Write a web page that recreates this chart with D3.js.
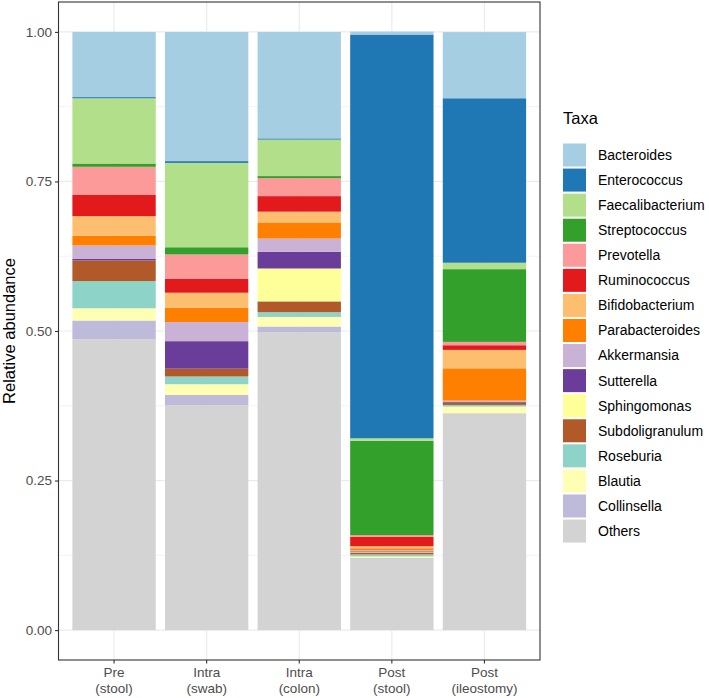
<!DOCTYPE html>
<html>
<head>
<meta charset="utf-8">
<script src="https://cdn.jsdelivr.net/npm/d3@7"></script>
<style>
  html, body { margin: 0; padding: 0; background: #fff; }
  text { font-family: "Liberation Sans", Arial, sans-serif; }
</style>
</head>
<body>
<svg id="chart" width="709" height="698"></svg>
<script>
// ---- data ----
const samples = ["Pre\n(stool)", "Intra\n(swab)", "Intra\n(colon)", "Post\n(stool)", "Post\n(ileostomy)"];
const taxa = ["Bacteroides", "Enterococcus", "Faecalibacterium", "Streptococcus", "Prevotella",
  "Ruminococcus", "Bifidobacterium", "Parabacteroides", "Akkermansia", "Sutterella",
  "Sphingomonas", "Subdoligranulum", "Roseburia", "Blautia", "Collinsella", "Others"];
const taxaColors = ["#A6CEE3", "#1F78B4", "#B2DF8A", "#33A02C", "#FB9A99", "#E31A1C", "#FDBF6F",
  "#FF7F00", "#CAB2D6", "#6A3D9A", "#FFFF99", "#B15928", "#8DD3C7", "#FFFFB3", "#BEBADA", "#D3D3D3"];
// values per sample, in taxa order
const preStool      = [0.109, 0.002, 0.109, 0.0055, 0.0465, 0.036, 0.033, 0.016, 0.022, 0.003, 0.000, 0.0345, 0.0455, 0.0205, 0.0315, 0.486];
const intraSwab     = [0.216, 0.003, 0.141, 0.012, 0.041, 0.023, 0.025, 0.024, 0.032, 0.046, 0.000, 0.013, 0.013, 0.018, 0.017, 0.376];
const intraColon    = [0.178, 0.002, 0.061, 0.0035, 0.030, 0.026, 0.018, 0.027, 0.022, 0.028, 0.055, 0.018, 0.008, 0.016, 0.010, 0.4975];
const postStool     = [0.005, 0.675, 0.004, 0.158, 0.0028, 0.0156, 0.0034, 0.0034, 0.0015, 0.001, 0.001, 0.0034, 0.0034, 0.0025, 0.0012, 0.1194];
const postIleostomy = [0.1106, 0.275, 0.0107, 0.1216, 0.0056, 0.0078, 0.0308, 0.054, 0.0017, 0.0017, 0.000, 0.0038, 0.0028, 0.0112, 0.0011, 0.3613];
const yTicks = [0, 0.25, 0.5, 0.75, 1];
const yMinor = [0.125, 0.375, 0.625, 0.875];

const seriesValues = [preStool, intraSwab, intraColon, postStool, postIleostomy];
const table = samples.map((s, i) => {
  const row = { sample: s };
  taxa.forEach((t, j) => row[t] = seriesValues[i][j]);
  return row;
});

// ---- layout ----
const svg = d3.select("#chart");
const panel = { left: 58.5, right: 540, top: 2, bottom: 660 };

const x = d3.scaleBand().domain(samples)
  .range([panel.left, panel.right]).paddingInner(0.1).paddingOuter(0.15);
const y = d3.scaleLinear().domain([-0.05, 1.05]).range([panel.bottom, panel.top]);

// grid
const g = svg.append("g");
g.selectAll(".minor").data(yMinor).join("line")
  .attr("x1", panel.left).attr("x2", panel.right)
  .attr("y1", d => y(d)).attr("y2", d => y(d))
  .attr("stroke", "#EBEBEB").attr("stroke-width", 0.6);
g.selectAll(".major").data(yTicks).join("line")
  .attr("x1", panel.left).attr("x2", panel.right)
  .attr("y1", d => y(d)).attr("y2", d => y(d))
  .attr("stroke", "#EBEBEB").attr("stroke-width", 1.2);
g.selectAll(".vmajor").data(samples).join("line")
  .attr("x1", d => x(d) + x.bandwidth() / 2).attr("x2", d => x(d) + x.bandwidth() / 2)
  .attr("y1", panel.top).attr("y2", panel.bottom)
  .attr("stroke", "#EBEBEB").attr("stroke-width", 1.2);

// stacked bars: Others at bottom, Bacteroides on top
const stackKeys = taxa.slice().reverse();
const stacked = d3.stack().keys(stackKeys)(table);
const color = d3.scaleOrdinal().domain(taxa).range(taxaColors);

svg.append("g").selectAll("g").data(stacked).join("g")
  .attr("fill", d => color(d.key))
  .selectAll("rect").data(d => d).join("rect")
  .attr("x", d => x(d.data.sample))
  .attr("width", x.bandwidth())
  .attr("y", d => y(d[1]))
  .attr("height", d => Math.max(0, y(d[0]) - y(d[1])));

// panel border
svg.append("rect")
  .attr("x", panel.left).attr("y", panel.top)
  .attr("width", panel.right - panel.left).attr("height", panel.bottom - panel.top)
  .attr("fill", "none").attr("stroke", "#333333").attr("stroke-width", 1.1);

// y axis
const yAxis = svg.append("g").attr("transform", `translate(${panel.left},0)`)
  .call(d3.axisLeft(y).tickValues(yTicks).tickFormat(d3.format(".2f")).tickSize(3.5).tickPadding(3));
yAxis.select(".domain").remove();
yAxis.selectAll("line").attr("stroke", "#333333").attr("stroke-width", 1.1);
yAxis.selectAll("text").attr("fill", "#4D4D4D").style("font-size", "13.5px")
  .style("font-family", "'Liberation Sans', Arial, sans-serif");

// x axis
const xAxis = svg.append("g").attr("transform", `translate(0,${panel.bottom})`)
  .call(d3.axisBottom(x).tickSize(3.5).tickPadding(3).tickFormat(""));
xAxis.select(".domain").remove();
xAxis.selectAll("line").attr("stroke", "#333333").attr("stroke-width", 1.1);
xAxis.selectAll(".tick").each(function(d) {
  const lines = d.split("\n");
  const t = d3.select(this).append("text")
    .attr("fill", "#4D4D4D").attr("text-anchor", "middle")
    .style("font-size", "13.5px")
    .style("font-family", "'Liberation Sans', Arial, sans-serif");
  lines.forEach((ln, i) => {
    t.append("tspan").attr("x", 0).attr("y", 17 + i * 15.5).text(ln);
  });
});

// y title
svg.append("text")
  .attr("transform", `translate(15,${(panel.top + panel.bottom) / 2}) rotate(-90)`)
  .attr("text-anchor", "middle").attr("fill", "#000")
  .style("font-size", "16.5px")
  .text("Relative abundance");

// legend
const leg = svg.append("g").attr("transform", "translate(563,0)");
leg.append("text").attr("x", 0).attr("y", 124).attr("fill", "#000")
  .style("font-size", "16.5px").text("Taxa");
const rowH = 25.07, keyW = 23, keyH = 23, firstY = 143.5;
const items = leg.selectAll(".item").data(taxa).join("g")
  .attr("transform", (d, i) => `translate(0,${firstY + i * rowH})`);
items.append("rect").attr("x", 0).attr("y", 0).attr("width", keyW).attr("height", keyH)
  .attr("fill", d => color(d));
items.append("text").attr("x", 35).attr("y", keyH / 2).attr("dy", "0.35em")
  .attr("fill", "#000").style("font-size", "14px").text(d => d);
</script>
</body>
</html>
